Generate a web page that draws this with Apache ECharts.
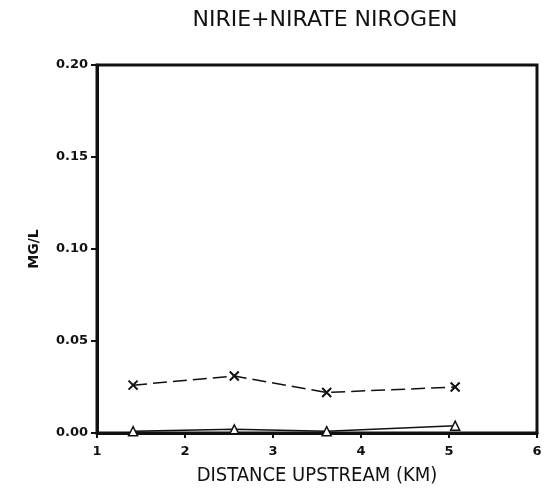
<!DOCTYPE html>
<html>
<head>
<meta charset="utf-8">
<script src="https://cdn.jsdelivr.net/npm/echarts@6/dist/echarts.min.js"></script>
<style>
    html, body { margin: 0; padding: 0; background: #fff; }
    #main { width: 551px; height: 495px; }
</style>
</head>
<body>
<div id="main"></div>
<script>
// distance upstream (km) of each station
var distances = [1.41, 2.56, 3.61, 5.07];
// series marked with x (dashed)
var crossValues = [0.026, 0.031, 0.022, 0.025];
// series marked with triangles (solid)
var triValues = [0.001, 0.002, 0.001, 0.004];

function pairs (xs, ys) {
    var out = [];
    for (var i = 0; i < xs.length; i++) {
        out.push([xs[i], ys[i]]);
    }
    return out;
}

var myChart = echarts.init(document.getElementById('main'));
var crossPath = 'path://M0,0L10,10M10,0L0,10';
var option = {
    backgroundColor: '#fff',
    animation: false,
    title: {
        text: 'NIRIE+NIRATE NIROGEN',
        left: 320,
        textAlign: 'center',
        top: 4,
        textStyle: {
            fontFamily: 'DejaVu Sans',
            fontSize: 22,
            fontWeight: 'normal',
            color: '#111'
        }
    },
    grid: {
        left: 97,
        right: 14,
        top: 65,
        bottom: 62,
        show: true,
        borderColor: '#111',
        borderWidth: 3,
        backgroundColor: 'transparent'
    },
    xAxis: {
        type: 'value',
        min: 1,
        max: 6,
        interval: 1,
        name: 'DISTANCE UPSTREAM (KM)',
        nameLocation: 'middle',
        nameGap: 33,
        nameTextStyle: {
            fontFamily: 'DejaVu Sans Condensed',
            fontSize: 20,
            color: '#111'
        },
        axisLine: { lineStyle: { color: '#111', width: 3 } },
        axisTick: { show: true, length: 5, lineStyle: { color: '#111', width: 2 } },
        axisLabel: {
            fontFamily: 'DejaVu Sans',
            fontWeight: 'bold',
            fontSize: 13,
            color: '#111',
            margin: 12
        },
        splitLine: { show: false }
    },
    yAxis: {
        type: 'value',
        min: 0,
        max: 0.2,
        interval: 0.05,
        name: 'MG/L',
        nameLocation: 'middle',
        nameGap: 56,
        nameTextStyle: {
            fontFamily: 'DejaVu Sans',
            fontWeight: 'bold',
            fontSize: 14,
            color: '#111'
        },
        axisLine: { lineStyle: { color: '#111', width: 3 } },
        axisTick: { show: true, length: 6, lineStyle: { color: '#111', width: 2 } },
        axisLabel: {
            fontFamily: 'DejaVu Sans',
            fontWeight: 'bold',
            fontSize: 13,
            color: '#111',
            margin: 9,
            formatter: function (v) { return v.toFixed(2); }
        },
        splitLine: { show: false }
    },
    series: [
        {
            name: 'x',
            type: 'line',
            data: pairs(distances, crossValues),
            symbol: crossPath,
            symbolSize: 9,
            lineStyle: { color: '#111', width: 1.5, type: [14, 6] },
            itemStyle: { color: 'transparent', borderColor: '#111', borderWidth: 2 }
        },
        {
            name: 'tri',
            type: 'line',
            data: pairs(distances, triValues),
            symbol: 'triangle',
            symbolSize: 9,
            lineStyle: { color: '#111', width: 1.5 },
            itemStyle: { color: '#fff', borderColor: '#111', borderWidth: 1.5 }
        }
    ]
};
myChart.setOption(option);
</script>
</body>
</html>
